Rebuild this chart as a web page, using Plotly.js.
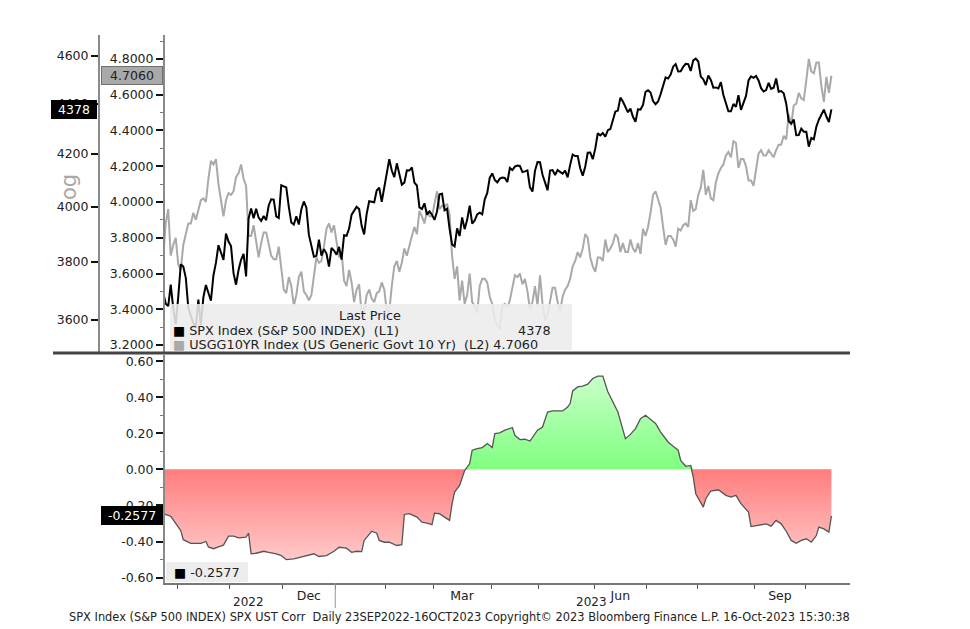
<!DOCTYPE html>
<html>
<head>
<meta charset="utf-8">
<script src="https://cdn.plot.ly/plotly-3.0.1.min.js"></script>
<style>html,body{margin:0;padding:0;background:#fff;}#chart{width:970px;height:629px;}</style>
</head>
<body>
<div id="chart"></div>
<script>
// Trading-day index 0 = 23 Sep 2022 ... 266 = 16 Oct 2023
const spxClose = [
 3693,3655,3647,3720,3640,3586,
 3678,3791,3783,3744,3640,3612,3589,3577,3669,3583,3677,3719,3695,3665,3752,3797,3859,3830,3807,3901,3872,
 3856,3760,3720,3771,3807,3828,3749,3956,3993,3957,3992,3959,3947,3965,3950,4004,4027,4026,3964,3958,4080,
 4076,4072,3999,3941,3934,3964,3934,3990,4019,3996,3896,3852,3818,3821,3879,3822,3845,3829,3783,3849,3840,
 3825,3853,3808,3895,3893,3919,3970,3983,3999,3991,3929,3898,3973,4020,4017,4016,4060,4071,4018,4077,
 4119,4180,4136,4111,4164,4118,4082,4090,4137,4136,4148,4090,4079,3997,3991,4012,3970,3982,3970,
 3951,3982,4046,4048,3986,3992,3919,3862,3855,3920,3892,3960,3917,3951,4003,3937,3949,3971,3977,3971,4027,4051,4109,
 4125,4100,4091,4105,4109,4108,4092,4146,4138,4151,4155,4154,4130,4133,4137,4072,4056,4135,4169,
 4168,4120,4091,4061,4136,4138,4119,4138,4131,4124,4136,4110,4158,4198,4192,4192,4145,4116,4151,4205,4206,4180,
 4221,4282,4273,4283,4268,4294,4299,4338,4369,4373,4426,4410,4389,4366,4381,4348,4328,4378,4377,4396,4450,
 4456,4447,4412,4399,4410,4440,4473,4510,4505,4522,4555,4566,4535,4536,4554,4567,4566,4537,4582,4589,
 4577,4513,4502,4478,4518,4499,4467,4468,4464,4490,4437,4404,4370,4370,4400,4388,4436,4376,4406,4433,4497,4514,4508,
 4516,4497,4465,4451,4457,4487,4462,4467,4505,4450,4453,4444,4402,4330,4320,4337,4274,4275,4300,4288,
 4288,4229,4263,4258,4308,4336,4358,4377,4349,4327,4378
];
const ust10y = [
 3.69,3.88,3.96,3.70,3.76,3.80,
 3.65,3.62,3.76,3.83,3.88,3.88,3.94,3.90,3.95,4.01,4.02,4.00,4.13,4.23,4.21,4.24,4.10,4.01,3.92,4.01,4.05,
 4.04,4.06,4.14,4.16,4.21,4.13,4.09,3.81,3.81,3.87,3.78,3.69,3.77,3.83,3.83,3.76,3.70,3.68,3.68,3.75,3.61,
 3.51,3.49,3.58,3.53,3.42,3.48,3.58,3.61,3.50,3.48,3.45,3.48,3.59,3.69,3.66,3.67,3.75,3.85,3.88,3.83,3.87,
 3.79,3.69,3.72,3.56,3.53,3.62,3.55,3.44,3.51,3.54,3.37,3.39,3.48,3.51,3.46,3.44,3.49,3.50,3.55,3.51,
 3.39,3.39,3.53,3.64,3.67,3.61,3.66,3.74,3.70,3.76,3.81,3.86,3.82,3.95,3.92,3.88,3.95,3.92,3.92,
 3.99,4.06,3.96,3.98,3.97,3.99,3.93,3.70,3.57,3.64,3.45,3.56,3.43,3.48,3.60,3.44,3.42,3.38,3.53,3.57,3.57,3.55,3.47,
 3.43,3.34,3.31,3.29,3.42,3.43,3.41,3.45,3.52,3.59,3.58,3.60,3.54,3.57,3.50,3.40,3.44,3.53,3.42,
 3.59,3.43,3.34,3.37,3.45,3.52,3.52,3.44,3.39,3.47,3.51,3.53,3.57,3.64,3.67,3.72,3.69,3.74,3.82,3.80,3.69,3.64,
 3.61,3.69,3.69,3.67,3.79,3.72,3.74,3.77,3.82,3.80,3.72,3.77,3.72,3.72,3.79,3.74,3.72,3.77,3.71,3.85,3.81,
 3.86,3.94,4.04,4.06,4.01,3.97,3.86,3.76,3.81,3.81,3.79,3.75,3.85,3.84,3.87,3.88,3.86,4.01,3.95,3.96,
 4.04,4.08,4.18,4.04,4.09,4.02,4.01,4.11,4.16,4.19,4.21,4.26,4.28,4.25,4.34,4.33,4.19,4.24,4.24,4.20,4.12,4.12,4.09,
 4.18,4.27,4.29,4.26,4.26,4.29,4.27,4.25,4.29,4.32,4.32,4.37,4.35,4.49,4.43,4.54,4.55,4.61,4.58,4.57,
 4.68,4.80,4.73,4.72,4.78,4.78,4.65,4.56,4.70,4.61,4.706
];
const corrDay = [0,3,5,7,8,11,15,17,18,20,22,24,26,28,30,33,34,35,37,40,42,45,47,49,52,55,57,60,62,65,68,70,73,75,77,79,80,83,85,86,88,90,93,95,96,98,101,103,105,107,108,110,112,114,115,116,118,120,122,123,125,127,129,131,132,134,136,139,140,142,144,146,149,151,153,155,159,161,162,163,165,167,169,171,173,175,177,181,184,186,188,190,192,194,196,198,201,203,205,206,208,210,211,212,215,216,218,221,224,226,228,230,233,234,237,240,242,244,246,248,250,252,254,256,258,260,261,263,265,266];
const corrValue = [-0.245,-0.26,-0.30,-0.34,-0.39,-0.41,-0.41,-0.40,-0.43,-0.44,-0.43,-0.42,-0.37,-0.37,-0.38,-0.376,-0.354,-0.468,-0.465,-0.454,-0.46,-0.468,-0.478,-0.50,-0.496,-0.487,-0.478,-0.468,-0.483,-0.478,-0.454,-0.432,-0.437,-0.46,-0.454,-0.456,-0.394,-0.343,-0.354,-0.394,-0.404,-0.404,-0.422,-0.417,-0.25,-0.246,-0.265,-0.293,-0.298,-0.307,-0.243,-0.246,-0.265,-0.283,-0.19,-0.126,-0.089,-0.006,0.032,0.106,0.115,0.121,0.143,0.121,0.198,0.202,0.217,0.232,0.189,0.165,0.167,0.157,0.217,0.235,0.318,0.324,0.324,0.346,0.365,0.435,0.457,0.461,0.472,0.504,0.517,0.517,0.43,0.318,0.17,0.194,0.226,0.281,0.30,0.276,0.254,0.207,0.152,0.128,0.106,0.05,0.017,0.022,-0.043,-0.135,-0.209,-0.163,-0.12,-0.113,-0.144,-0.154,-0.144,-0.19,-0.237,-0.317,-0.311,-0.302,-0.315,-0.283,-0.302,-0.343,-0.394,-0.41,-0.394,-0.385,-0.404,-0.367,-0.32,-0.33,-0.348,-0.2577];

const monthBoundaryDay = [5.5,26.5,47.5,68.5,88.5,107.5,130.5,149.5,171.5,192.5,212.5,235.5,255.5];
const monthLabelDay = [58,119,182,245.5];
const monthLabels = ['Dec','Mar','Jun','Sep'];
const yearBoundaryDay = 68.5;
const yearLabelDay = [34,170.5];
const yearLabels = ['2022','2023'];
const yieldTicks = [3.2,3.4,3.6,3.8,4.0,4.2,4.4,4.6,4.8];
const spxTicks = [3600,3800,4000,4200,4400,4600];
const corrTicks = [-0.6,-0.4,-0.2,0,0.2,0.4,0.6];
const corrMinor = [-0.5,-0.3,-0.1,0.1,0.3,0.5];
const spxLast = 4378, yieldLast = 4.706, corrLast = -0.2577;

const FONT = 'DejaVu Sans, Verdana, sans-serif';
const tradingDay = spxClose.map((_, i) => i);

const traces = [
  {x: tradingDay, y: ust10y, xaxis:'x', yaxis:'y', type:'scatter', mode:'lines',
   line:{color:'#a9a9a9', width:2}, hoverinfo:'skip'},
  {x: tradingDay, y: spxClose, xaxis:'x', yaxis:'y2', type:'scatter', mode:'lines',
   line:{color:'#000000', width:2}, hoverinfo:'skip'},
  {x: corrDay, y: corrValue.map(v => Math.min(v, 0)), xaxis:'x', yaxis:'y3', type:'scatter', mode:'lines',
   line:{width:0, color:'rgba(0,0,0,0)'}, fill:'tozeroy', fillcolor:'#ff9a9a',
   fillgradient:{type:'vertical', start:-0.5, stop:0, colorscale:[[0,'#ffc9c9'],[1,'#ff7d7d']]}, hoverinfo:'skip'},
  {x: corrDay, y: corrValue.map(v => Math.max(v, 0)), xaxis:'x', yaxis:'y3', type:'scatter', mode:'lines',
   line:{width:0, color:'rgba(0,0,0,0)'}, fill:'tozeroy', fillcolor:'#9cff9c',
   fillgradient:{type:'vertical', start:0, stop:0.52, colorscale:[[0,'#80ff80'],[1,'#c9ffc9']]}, hoverinfo:'skip'},
  {x: corrDay, y: corrValue, xaxis:'x', yaxis:'y3', type:'scatter', mode:'lines',
   line:{color:'#555555', width:1.3}, hoverinfo:'skip'}
];

const L = 50, PW = 800, PB = 583, PH = 548;
const px = v => (v - L) / PW;
const py = v => (PB - v) / PH;

const tickFont = {family: FONT, size: 12.5, color: '#222'};
const legFont = {family: FONT, size: 12.8, color: '#222'};

const layout = {
  width: 970, height: 629,
  margin: {l: L, r: 120, t: 35, b: 46},
  paper_bgcolor: '#ffffff', plot_bgcolor: 'rgba(0,0,0,0)',
  showlegend: false,
  font: {family: FONT, size: 12, color: '#222'},
  xaxis: {
    domain: [px(165), 1], range: [0.72, 273.4], anchor: 'y3',
    showgrid: false, zeroline: false, showline: true, linecolor: '#777', linewidth: 1.5,
    tickmode: 'array', tickvals: monthLabelDay, ticktext: monthLabels, ticks: '',
    tickfont: tickFont,
    minor: {tickmode: 'array', tickvals: monthBoundaryDay, ticks: 'outside', ticklen: 4, tickwidth: 1, tickcolor: '#555'}
  },
  yaxis: {
    domain: [py(352), 1], range: [3.161, 4.934], anchor: 'x', side: 'left',
    showgrid: false, zeroline: false, showline: true, linecolor: '#8a8a8a', linewidth: 2,
    tickmode: 'array', tickvals: yieldTicks, ticktext: yieldTicks.map(v => v.toFixed(4)),
    ticks: 'outside', ticklen: 7, tickwidth: 2, tickcolor: '#111', tickfont: tickFont,
    minor: {tickmode: 'array', tickvals: [3.3,3.5,3.7,3.9,4.1,4.3,4.5,4.7,4.9], ticks: 'outside', ticklen: 3, tickwidth: 1, tickcolor: '#777'}
  },
  yaxis2: {
    overlaying: 'y', anchor: 'free', position: px(99), side: 'left', type: 'log',
    range: [Math.log10(3494.6), Math.log10(4691)],
    showgrid: false, zeroline: false, showline: true, linecolor: '#8a8a8a', linewidth: 2,
    tickmode: 'array', tickvals: spxTicks, ticktext: spxTicks.map(String),
    ticks: 'outside', ticklen: 7, tickwidth: 2, tickcolor: '#111', tickfont: tickFont
  },
  yaxis3: {
    domain: [0, py(355)], range: [-0.630, 0.634], anchor: 'x', side: 'left',
    showgrid: false, zeroline: false, showline: true, linecolor: '#8a8a8a', linewidth: 2,
    tickmode: 'array', tickvals: corrTicks, ticktext: corrTicks.map(v => v.toFixed(2)),
    ticks: 'outside', ticklen: 7, tickwidth: 2, tickcolor: '#111', tickfont: tickFont,
    minor: {tickmode: 'array', tickvals: corrMinor, ticks: 'outside', ticklen: 3, tickwidth: 1, tickcolor: '#777'}
  },
  shapes: [
    {type: 'line', xref: 'paper', yref: 'paper', x0: px(53), x1: 1, y0: py(353), y1: py(353),
     line: {color: '#444', width: 3}},
    {type: 'line', xref: 'x', yref: 'paper', x0: yearBoundaryDay, x1: yearBoundaryDay, y0: 0, y1: py(608),
     line: {color: '#999', width: 1}},
    {type: 'rect', xref: 'paper', yref: 'paper', x0: px(170), x1: px(572), y0: py(350), y1: py(304),
     fillcolor: 'rgba(236,236,236,0.88)', line: {width: 0}, layer: 'above'},
    {type: 'rect', xref: 'paper', yref: 'paper', x0: px(166), x1: px(248), y0: py(582), y1: py(562),
     fillcolor: 'rgba(236,236,236,0.95)', line: {width: 0}, layer: 'above'}
  ],
  annotations: [
    ...yearLabels.map((t, i) => ({xref: 'x', yref: 'paper', x: yearLabelDay[i], y: py(602), text: t,
      showarrow: false, font: {family: FONT, size: 12, color: '#222'}, xanchor: 'center', yanchor: 'middle'})),
    {xref: 'paper', yref: 'paper', x: px(852), y: py(616.5), xanchor: 'right', yanchor: 'middle', showarrow: false,
     text: 'SPX Index (S&amp;P 500 INDEX) SPX UST Corr&nbsp;&nbsp;Daily 23SEP2022-16OCT2023 Copyright\u00a9 2023 Bloomberg Finance L.P. 16-Oct-2023 15:30:38',
     font: {family: FONT, size: 11.4, color: '#222'}},
    {xref: 'paper', yref: 'paper', x: px(370), y: py(315.5), text: 'Last Price', showarrow: false,
     xanchor: 'center', yanchor: 'middle', font: legFont},
    {xref: 'paper', yref: 'paper', x: px(171), y: py(330.5), xanchor: 'left', yanchor: 'middle', showarrow: false,
     text: '<span style="color:#000">\u25A0</span> SPX Index (S&amp;P 500 INDEX)&nbsp;&nbsp;(L1)', font: legFont},
    {xref: 'paper', yref: 'paper', x: px(553), y: py(330.5), xanchor: 'right', yanchor: 'middle', showarrow: false,
     text: String(spxLast), font: legFont},
    {xref: 'paper', yref: 'paper', x: px(171), y: py(344), xanchor: 'left', yanchor: 'middle', showarrow: false,
     text: '<span style="color:#a9a9a9">\u25A0</span> USGG10YR Index (US Generic Govt 10 Yr)&nbsp;&nbsp;(L2) ' + yieldLast.toFixed(4),
     font: legFont},
    {xref: 'paper', yref: 'paper', x: px(172), y: py(572), xanchor: 'left', yanchor: 'middle', showarrow: false,
     text: '<span style="color:#000">\u25A0</span> ' + corrLast.toFixed(4), font: legFont},
    {xref: 'paper', yref: 'y', x: px(163), y: yieldLast, xanchor: 'right', yanchor: 'middle', showarrow: false,
     text: yieldLast.toFixed(4), bgcolor: '#a9a9a9', bordercolor: '#6f6f6f', borderwidth: 1, borderpad: 1, width: 58,
     font: {family: FONT, size: 12.5, color: '#222'}},
    {xref: 'paper', yref: 'y2', x: px(97), y: Math.log10(spxLast), xanchor: 'right', yanchor: 'middle', showarrow: false,
     text: String(spxLast), bgcolor: '#000', bordercolor: '#000', borderwidth: 1, borderpad: 1, width: 42,
     font: {family: FONT, size: 12.5, color: '#fff'}},
    {xref: 'paper', yref: 'y3', x: px(163), y: corrLast, xanchor: 'right', yanchor: 'middle', showarrow: false,
     text: corrLast.toFixed(4), bgcolor: '#000', bordercolor: '#000', borderwidth: 1, borderpad: 1, width: 58,
     font: {family: FONT, size: 12.5, color: '#fff'}},
    {xref: 'paper', yref: 'paper', x: px(69), y: py(187), text: 'og', textangle: -90, showarrow: false,
     xanchor: 'center', yanchor: 'middle', font: {family: FONT, size: 21, color: '#a8a8a8'}}
  ]
};

Plotly.newPlot('chart', traces, layout, {staticPlot: true, displayModeBar: false});
</script>
</body>
</html>
